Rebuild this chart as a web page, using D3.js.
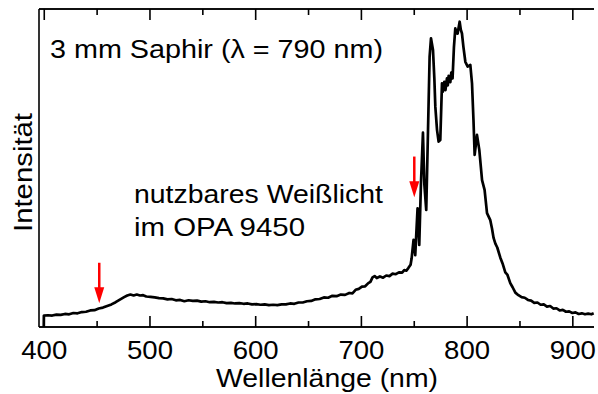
<!doctype html>
<html lang="de">
<head>
<meta charset="utf-8">
<title>Weißlicht-Spektrum</title>
<script src="https://cdn.jsdelivr.net/npm/d3@7"></script>
<style>
  body { margin: 0; background: #fff; }
  svg { font-family: "Liberation Sans", Arial, sans-serif; }
  .axis path, .axis line { stroke: #000; stroke-width: 1.6; }
  .axis text { font-size: 26px; fill: #000; }
</style>
</head>
<body>
<div id="chart"></div>
<script>
// wavelength in nm, intensity in arbitrary units
var wavelength = [400, 400.1, 404, 408, 412, 416, 420, 424, 428, 432, 436, 440, 444, 448, 452, 456, 460, 464,
  468, 472, 476, 479, 482, 485, 488, 491, 494, 497, 501, 505, 509, 513, 517, 521, 525, 529, 533, 537, 541,
  545, 549, 553, 557, 561, 565, 569, 573, 577, 581, 585, 589, 593, 597, 601, 605, 609, 613, 617, 621, 625,
  629, 633, 637, 641, 645, 649, 653, 657, 661, 665, 669, 673, 677, 681, 685, 689, 692, 695, 698, 701, 704,
  707, 709, 711, 713, 715, 718, 721, 724, 727, 730, 733, 736, 739, 741, 743, 745, 747,
  748, 749.8, 751.4, 753.6, 755.2, 756.8, 758.7, 760, 761.8, 763.5, 765, 766.3, 768.2, 769.5,
  770.4, 772, 773.5, 775.1, 776.7, 777.5, 778.9, 780, 781.4, 782.2, 783, 784.6, 785.5, 786.7, 788, 789.3,
  790.5, 791.5, 793.4, 794.5, 795.6, 797, 798.8, 801, 803.5, 805.1, 806.5, 807.6, 809.8, 812, 814.6, 817,
  819.3, 822.4, 824, 825.5, 827.2, 829, 831.9, 834, 836.6, 838.5, 841.3, 843.5, 846.1, 849, 852, 855, 858,
  861, 864, 867, 870, 873, 876, 879, 882, 885, 888, 891, 894, 897, 900, 903, 906, 909, 912, 915, 918, 920.2];
var intensity = [0, 0.036, 0.037, 0.036, 0.039, 0.038, 0.041, 0.040, 0.044, 0.043, 0.047, 0.048, 0.052,
  0.053, 0.058, 0.061, 0.066, 0.071, 0.078, 0.086, 0.094, 0.099, 0.102, 0.099, 0.102, 0.099, 0.100, 0.096,
  0.095, 0.093, 0.091, 0.090, 0.087, 0.088, 0.084, 0.085, 0.081, 0.084, 0.082, 0.083, 0.080, 0.081, 0.078,
  0.079, 0.077, 0.078, 0.075, 0.076, 0.074, 0.075, 0.073, 0.074, 0.071, 0.072, 0.070, 0.071, 0.069, 0.070,
  0.069, 0.071, 0.071, 0.074, 0.073, 0.077, 0.077, 0.081, 0.082, 0.087, 0.088, 0.093, 0.092, 0.098, 0.097,
  0.102, 0.101, 0.107, 0.106, 0.117, 0.120, 0.127, 0.128, 0.138, 0.142, 0.156, 0.160, 0.154, 0.159, 0.155,
  0.162, 0.160, 0.168, 0.166, 0.172, 0.171, 0.179, 0.177, 0.186, 0.196,
  0.216, 0.274, 0.226, 0.373, 0.258, 0.45, 0.611, 0.45, 0.368, 0.62, 0.85, 0.908, 0.871, 0.78,
  0.693, 0.62, 0.583, 0.588, 0.766, 0.74, 0.771, 0.745, 0.782, 0.76, 0.79, 0.77, 0.80, 0.782, 0.88, 0.939,
  0.925, 0.923, 0.960, 0.935, 0.923, 0.88, 0.834, 0.819, 0.824, 0.766, 0.65, 0.541, 0.604, 0.557, 0.462, 0.431,
  0.358, 0.336, 0.31, 0.28, 0.262, 0.25, 0.218, 0.20, 0.172, 0.165, 0.138, 0.125, 0.108, 0.100, 0.094, 0.092,
  0.085, 0.083, 0.076, 0.077, 0.070, 0.071, 0.064, 0.066, 0.058, 0.059, 0.052, 0.054, 0.048, 0.049, 0.044,
  0.046, 0.041, 0.043, 0.040, 0.042, 0.040, 0.043];
var majorTicks = [400, 500, 600, 700, 800, 900];
var minorTicks = [450, 550, 650, 750, 850];
// red arrows: [wavelength, tip, tail]
var arrows = [[452.5, 0.075, 0.202], [750.5, 0.408, 0.536]];

(function () {
  var width = 598, height = 394;
  var mLeft = 39, mRight = 594, mTop = 9, mBottom = 327;

  var x = d3.scaleLinear().domain([395.5, 920.5]).range([mLeft, mRight]);
  var y = d3.scaleLinear().domain([0, 1]).range([mBottom, mTop]);

  var svg = d3.select("#chart").append("svg")
    .attr("width", width).attr("height", height);

  // bottom axis, ticks pointing inward
  svg.append("g").attr("class", "axis")
    .attr("transform", "translate(0," + mBottom + ")")
    .call(d3.axisBottom(x).tickValues(majorTicks).tickSizeInner(-11).tickSizeOuter(0).tickPadding(14))
    .selectAll("text").attr("textLength", 46).attr("lengthAdjust", "spacingAndGlyphs");
  svg.append("g").attr("class", "axis")
    .attr("transform", "translate(0," + mBottom + ")")
    .call(d3.axisBottom(x).tickValues(minorTicks).tickSizeInner(-6).tickSizeOuter(0).tickFormat(""));
  // top axis
  svg.append("g").attr("class", "axis")
    .attr("transform", "translate(0," + mTop + ")")
    .call(d3.axisTop(x).tickValues(majorTicks).tickSizeInner(-11).tickSizeOuter(0).tickFormat(""));
  svg.append("g").attr("class", "axis")
    .attr("transform", "translate(0," + mTop + ")")
    .call(d3.axisTop(x).tickValues(minorTicks).tickSizeInner(-6).tickSizeOuter(0).tickFormat(""));
  svg.selectAll(".axis .domain").attr("d", "M" + mLeft + ",0H" + mRight);

  // left border
  svg.append("line")
    .attr("x1", mLeft).attr("x2", mLeft).attr("y1", mTop).attr("y2", mBottom)
    .attr("stroke", "#000").attr("stroke-width", 1.6);

  var line = d3.line()
    .x(function (d, i) { return x(wavelength[i]); })
    .y(function (d) { return y(d); });

  svg.append("path")
    .datum(intensity)
    .attr("d", line)
    .attr("fill", "none")
    .attr("stroke", "#000")
    .attr("stroke-width", 2.7)
    .attr("stroke-linejoin", "round");

  // arrows
  arrows.forEach(function (a) {
    var ax = x(a[0]), tip = y(a[1]), tail = y(a[2]);
    svg.append("line")
      .attr("x1", ax).attr("x2", ax).attr("y1", tail).attr("y2", tip - 14)
      .attr("stroke", "#f00").attr("stroke-width", 2.5);
    svg.append("path")
      .attr("d", "M" + (ax - 5) + "," + (tip - 16) + "L" + (ax + 5) + "," + (tip - 16) + "L" + ax + "," + tip + "Z")
      .attr("fill", "#f00");
  });

  // texts
  svg.append("text").attr("x", 50).attr("y", 57.5)
    .attr("font-size", 26).attr("textLength", 333).attr("lengthAdjust", "spacingAndGlyphs")
    .text("3 mm Saphir (\u03bb = 790 nm)");
  svg.append("text").attr("x", 134).attr("y", 203)
    .attr("font-size", 26).attr("textLength", 249).attr("lengthAdjust", "spacingAndGlyphs")
    .text("nutzbares Weißlicht");
  svg.append("text").attr("x", 134).attr("y", 236)
    .attr("font-size", 26).attr("textLength", 171).attr("lengthAdjust", "spacingAndGlyphs")
    .text("im OPA 9450");

  svg.append("text").attr("x", 216).attr("y", 387)
    .attr("font-size", 26).attr("textLength", 222).attr("lengthAdjust", "spacingAndGlyphs")
    .text("Wellenlänge (nm)");

  svg.append("text")
    .attr("transform", "translate(32,232) rotate(-90)")
    .attr("font-size", 26).attr("textLength", 119).attr("lengthAdjust", "spacingAndGlyphs")
    .text("Intensität");
})();
</script>
</body>
</html>
